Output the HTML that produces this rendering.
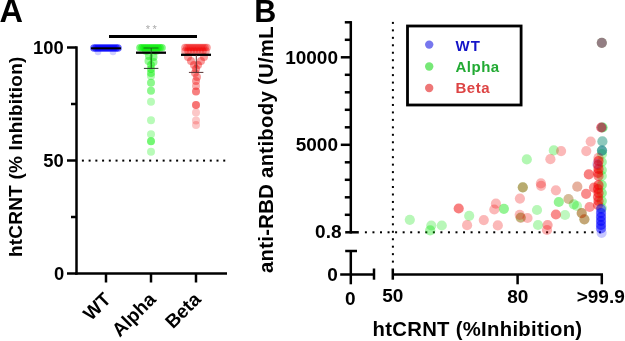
<!DOCTYPE html>
<html><head><meta charset="utf-8"><style>
html,body{margin:0;padding:0;background:#fff;}
svg{display:block;will-change:transform;}
svg text{font-family:"Liberation Sans",sans-serif;}
</style></head><body>
<svg width="625" height="341" viewBox="0 0 625 341">
<defs><filter id="soft" x="-5%" y="-5%" width="110%" height="110%"><feGaussianBlur stdDeviation="0.75"/></filter><filter id="softA" x="-10%" y="-10%" width="120%" height="120%"><feGaussianBlur stdDeviation="0.5"/></filter></defs>
<text x="-0.6" y="21.7" font-family="Liberation Sans, sans-serif" font-weight="bold" font-size="32.5">A</text>
<line x1="76.5" y1="46.3" x2="76.5" y2="274.7" stroke="#000" stroke-width="2.5"/>
<line x1="67" y1="47.5" x2="76.5" y2="47.5" stroke="#000" stroke-width="2.5"/>
<line x1="71" y1="104" x2="76.5" y2="104" stroke="#000" stroke-width="2.5"/>
<line x1="67" y1="160.5" x2="76.5" y2="160.5" stroke="#000" stroke-width="2.5"/>
<line x1="71" y1="217" x2="76.5" y2="217" stroke="#000" stroke-width="2.5"/>
<line x1="67" y1="273.5" x2="76.5" y2="273.5" stroke="#000" stroke-width="2.5"/>
<line x1="75.3" y1="273.5" x2="227" y2="273.5" stroke="#000" stroke-width="2.5"/>
<line x1="106" y1="273.5" x2="106" y2="282.5" stroke="#000" stroke-width="2.5"/>
<line x1="151" y1="273.5" x2="151" y2="282.5" stroke="#000" stroke-width="2.5"/>
<line x1="196" y1="273.5" x2="196" y2="282.5" stroke="#000" stroke-width="2.5"/>
<text x="63.8" y="54.2" font-family="Liberation Sans, sans-serif" font-weight="bold" font-size="18.4" text-anchor="end">100</text>
<text x="63.8" y="167" font-family="Liberation Sans, sans-serif" font-weight="bold" font-size="18.4" text-anchor="end">50</text>
<text x="64.3" y="280.4" font-family="Liberation Sans, sans-serif" font-weight="bold" font-size="18.4" text-anchor="end">0</text>
<text transform="translate(22,257) rotate(-90)" font-family="Liberation Sans, sans-serif" font-weight="bold" font-size="19" letter-spacing="0.2">htCRNT (% Inhibition)</text>
<text transform="translate(112,300.5) rotate(-45)" font-family="Liberation Sans, sans-serif" font-weight="bold" font-size="19" text-anchor="end">WT</text>
<text transform="translate(157,300.5) rotate(-45)" font-family="Liberation Sans, sans-serif" font-weight="bold" font-size="19" text-anchor="end">Alpha</text>
<text transform="translate(202,300.5) rotate(-45)" font-family="Liberation Sans, sans-serif" font-weight="bold" font-size="19" text-anchor="end">Beta</text>
<g fill="#000"><rect x="81.9" y="159.6" width="2" height="2"/><rect x="88.63000000000001" y="159.6" width="2" height="2"/><rect x="95.36000000000001" y="159.6" width="2" height="2"/><rect x="102.09" y="159.6" width="2" height="2"/><rect x="108.82000000000001" y="159.6" width="2" height="2"/><rect x="115.55000000000001" y="159.6" width="2" height="2"/><rect x="122.28" y="159.6" width="2" height="2"/><rect x="129.01" y="159.6" width="2" height="2"/><rect x="135.74" y="159.6" width="2" height="2"/><rect x="142.47000000000003" y="159.6" width="2" height="2"/><rect x="149.20000000000002" y="159.6" width="2" height="2"/><rect x="155.93" y="159.6" width="2" height="2"/><rect x="162.66000000000003" y="159.6" width="2" height="2"/><rect x="169.39000000000001" y="159.6" width="2" height="2"/><rect x="176.12" y="159.6" width="2" height="2"/><rect x="182.85000000000002" y="159.6" width="2" height="2"/><rect x="189.58" y="159.6" width="2" height="2"/><rect x="196.31" y="159.6" width="2" height="2"/><rect x="203.04000000000002" y="159.6" width="2" height="2"/><rect x="209.77" y="159.6" width="2" height="2"/><rect x="216.50000000000003" y="159.6" width="2" height="2"/><rect x="223.23000000000002" y="159.6" width="2" height="2"/></g>
<rect x="109" y="35" width="88" height="3" fill="#000"/>
<text x="152.5" y="32.5" font-family="Liberation Sans, sans-serif" font-size="11" fill="#aaaaaa" text-anchor="middle" letter-spacing="2.5">**</text>
<g filter="url(#softA)"><circle cx="94" cy="48" r="3.8" fill="#0000ff" fill-opacity="0.6"/><circle cx="96" cy="48" r="3.8" fill="#0000ff" fill-opacity="0.6"/><circle cx="98" cy="48" r="3.8" fill="#0000ff" fill-opacity="0.6"/><circle cx="100" cy="48" r="3.8" fill="#0000ff" fill-opacity="0.6"/><circle cx="102" cy="48" r="3.8" fill="#0000ff" fill-opacity="0.6"/><circle cx="104" cy="48" r="3.8" fill="#0000ff" fill-opacity="0.6"/><circle cx="106" cy="48" r="3.8" fill="#0000ff" fill-opacity="0.6"/><circle cx="108" cy="48" r="3.8" fill="#0000ff" fill-opacity="0.6"/><circle cx="110" cy="48" r="3.8" fill="#0000ff" fill-opacity="0.6"/><circle cx="112" cy="48" r="3.8" fill="#0000ff" fill-opacity="0.6"/><circle cx="114" cy="48" r="3.8" fill="#0000ff" fill-opacity="0.6"/><circle cx="116" cy="48" r="3.8" fill="#0000ff" fill-opacity="0.6"/><circle cx="118" cy="48" r="3.8" fill="#0000ff" fill-opacity="0.6"/><circle cx="98" cy="52" r="3.3" fill="#0000ff" fill-opacity="0.18"/><circle cx="113" cy="52" r="3.3" fill="#0000ff" fill-opacity="0.18"/></g>
<line x1="91" y1="48.3" x2="121" y2="48.3" stroke="#000" stroke-width="2"/>
<g filter="url(#softA)"><circle cx="140" cy="47.8" r="3.8" fill="#00f000" fill-opacity="0.5"/><circle cx="142" cy="47.8" r="3.8" fill="#00f000" fill-opacity="0.5"/><circle cx="144" cy="47.8" r="3.8" fill="#00f000" fill-opacity="0.5"/><circle cx="146" cy="47.8" r="3.8" fill="#00f000" fill-opacity="0.5"/><circle cx="148" cy="47.8" r="3.8" fill="#00f000" fill-opacity="0.5"/><circle cx="150" cy="47.8" r="3.8" fill="#00f000" fill-opacity="0.5"/><circle cx="152" cy="47.8" r="3.8" fill="#00f000" fill-opacity="0.5"/><circle cx="154" cy="47.8" r="3.8" fill="#00f000" fill-opacity="0.5"/><circle cx="156" cy="47.8" r="3.8" fill="#00f000" fill-opacity="0.5"/><circle cx="158" cy="47.8" r="3.8" fill="#00f000" fill-opacity="0.5"/><circle cx="160" cy="47.8" r="3.8" fill="#00f000" fill-opacity="0.5"/><circle cx="162" cy="47.8" r="3.8" fill="#00f000" fill-opacity="0.5"/><circle cx="146" cy="51" r="4" fill="#00f000" fill-opacity="0.4"/><circle cx="156" cy="51" r="4" fill="#00f000" fill-opacity="0.4"/><circle cx="149" cy="56" r="4" fill="#00f000" fill-opacity="0.45"/><circle cx="153.5" cy="57" r="4" fill="#00f000" fill-opacity="0.45"/><circle cx="148.5" cy="61" r="4" fill="#00f000" fill-opacity="0.4"/><circle cx="153.5" cy="62" r="4" fill="#00f000" fill-opacity="0.4"/><circle cx="151" cy="65" r="4" fill="#00f000" fill-opacity="0.45"/><circle cx="151" cy="69" r="4" fill="#00f000" fill-opacity="0.45"/><circle cx="151" cy="73" r="4" fill="#00f000" fill-opacity="0.45"/><circle cx="151" cy="76" r="4" fill="#00f000" fill-opacity="0.3"/><circle cx="151" cy="82.7" r="4" fill="#00f000" fill-opacity="0.45"/><circle cx="151" cy="90.7" r="4" fill="#00f000" fill-opacity="0.45"/><circle cx="151" cy="101.8" r="4" fill="#00f000" fill-opacity="0.28"/><circle cx="151" cy="120.2" r="4" fill="#00f000" fill-opacity="0.28"/><circle cx="151" cy="134.3" r="4" fill="#00f000" fill-opacity="0.28"/><circle cx="151" cy="141.3" r="4" fill="#00f000" fill-opacity="0.55"/><circle cx="151" cy="151.8" r="4" fill="#00f000" fill-opacity="0.28"/></g>
<line x1="136" y1="52.7" x2="166" y2="52.7" stroke="#000" stroke-width="2.3"/>
<line x1="151.2" y1="48" x2="151.2" y2="68.4" stroke="#1a5a1a" stroke-width="1"/>
<line x1="143.5" y1="48" x2="158.5" y2="48" stroke="#1a6a1a" stroke-width="1"/>
<line x1="143.9" y1="68.4" x2="158.4" y2="68.4" stroke="#2a3a2a" stroke-width="1"/>
<g filter="url(#softA)"><circle cx="185" cy="47.5" r="3.8" fill="#f00000" fill-opacity="0.38"/><circle cx="187" cy="47.5" r="3.8" fill="#f00000" fill-opacity="0.38"/><circle cx="189" cy="47.5" r="3.8" fill="#f00000" fill-opacity="0.38"/><circle cx="191" cy="47.5" r="3.8" fill="#f00000" fill-opacity="0.38"/><circle cx="193" cy="47.5" r="3.8" fill="#f00000" fill-opacity="0.38"/><circle cx="195" cy="47.5" r="3.8" fill="#f00000" fill-opacity="0.38"/><circle cx="197" cy="47.5" r="3.8" fill="#f00000" fill-opacity="0.38"/><circle cx="199" cy="47.5" r="3.8" fill="#f00000" fill-opacity="0.38"/><circle cx="201" cy="47.5" r="3.8" fill="#f00000" fill-opacity="0.38"/><circle cx="203" cy="47.5" r="3.8" fill="#f00000" fill-opacity="0.38"/><circle cx="205" cy="47.5" r="3.8" fill="#f00000" fill-opacity="0.38"/><circle cx="207" cy="47.5" r="3.8" fill="#f00000" fill-opacity="0.38"/><circle cx="185" cy="51" r="3.8" fill="#f00000" fill-opacity="0.35"/><circle cx="188" cy="51" r="3.8" fill="#f00000" fill-opacity="0.35"/><circle cx="191" cy="51" r="3.8" fill="#f00000" fill-opacity="0.35"/><circle cx="194" cy="51" r="3.8" fill="#f00000" fill-opacity="0.35"/><circle cx="197" cy="51" r="3.8" fill="#f00000" fill-opacity="0.35"/><circle cx="200" cy="51" r="3.8" fill="#f00000" fill-opacity="0.35"/><circle cx="203" cy="51" r="3.8" fill="#f00000" fill-opacity="0.35"/><circle cx="206" cy="51" r="3.8" fill="#f00000" fill-opacity="0.35"/><circle cx="188" cy="57" r="4" fill="#f00000" fill-opacity="0.38"/><circle cx="204" cy="57" r="4" fill="#f00000" fill-opacity="0.38"/><circle cx="191" cy="61" r="4" fill="#f00000" fill-opacity="0.4"/><circle cx="201" cy="61" r="4" fill="#f00000" fill-opacity="0.4"/><circle cx="194" cy="65" r="4" fill="#f00000" fill-opacity="0.4"/><circle cx="198" cy="65" r="4" fill="#f00000" fill-opacity="0.4"/><circle cx="196" cy="69" r="4" fill="#f00000" fill-opacity="0.42"/><circle cx="195" cy="73" r="4" fill="#f00000" fill-opacity="0.4"/><circle cx="197" cy="77" r="4" fill="#f00000" fill-opacity="0.38"/><circle cx="196" cy="81" r="4" fill="#f00000" fill-opacity="0.4"/><circle cx="196" cy="86" r="4" fill="#f00000" fill-opacity="0.32"/><circle cx="196" cy="91.5" r="4" fill="#f00000" fill-opacity="0.5"/><circle cx="196" cy="104.9" r="4" fill="#f00000" fill-opacity="0.55"/><circle cx="196" cy="112.4" r="4" fill="#f00000" fill-opacity="0.22"/><circle cx="196" cy="120.5" r="4" fill="#f00000" fill-opacity="0.22"/><circle cx="196" cy="125" r="4" fill="#f00000" fill-opacity="0.22"/></g>
<line x1="181" y1="54.8" x2="211" y2="54.8" stroke="#000" stroke-width="2.3"/>
<line x1="196.3" y1="55" x2="196.3" y2="72.4" stroke="#663333" stroke-width="1"/>
<line x1="188.9" y1="72.4" x2="203.4" y2="72.4" stroke="#553333" stroke-width="1"/>
<text x="254.3" y="21.9" font-family="Liberation Sans, sans-serif" font-weight="bold" font-size="30.5">B</text>
<line x1="350.8" y1="21.1" x2="350.8" y2="233.5" stroke="#000" stroke-width="2.5"/>
<line x1="344.8" y1="22.3" x2="350.8" y2="22.3" stroke="#000" stroke-width="2.5"/>
<line x1="344.8" y1="39.8" x2="350.8" y2="39.8" stroke="#000" stroke-width="2.5"/>
<line x1="340.8" y1="57.3" x2="350.8" y2="57.3" stroke="#000" stroke-width="2.5"/>
<line x1="344.8" y1="74.8" x2="350.8" y2="74.8" stroke="#000" stroke-width="2.5"/>
<line x1="344.8" y1="92.3" x2="350.8" y2="92.3" stroke="#000" stroke-width="2.5"/>
<line x1="344.8" y1="109.8" x2="350.8" y2="109.8" stroke="#000" stroke-width="2.5"/>
<line x1="344.8" y1="127.3" x2="350.8" y2="127.3" stroke="#000" stroke-width="2.5"/>
<line x1="340.8" y1="144.8" x2="350.8" y2="144.8" stroke="#000" stroke-width="2.5"/>
<line x1="344.8" y1="162.3" x2="350.8" y2="162.3" stroke="#000" stroke-width="2.5"/>
<line x1="344.8" y1="179.8" x2="350.8" y2="179.8" stroke="#000" stroke-width="2.5"/>
<line x1="344.8" y1="197.3" x2="350.8" y2="197.3" stroke="#000" stroke-width="2.5"/>
<line x1="344.8" y1="214.8" x2="350.8" y2="214.8" stroke="#000" stroke-width="2.5"/>
<line x1="345.2" y1="232.3" x2="358.8" y2="232.3" stroke="#000" stroke-width="2.5"/>
<line x1="350.8" y1="251" x2="350.8" y2="284.3" stroke="#000" stroke-width="2.5"/>
<line x1="345.2" y1="251" x2="357" y2="251" stroke="#000" stroke-width="2.5"/>
<line x1="340.2" y1="274.4" x2="374.2" y2="274.4" stroke="#000" stroke-width="2.5"/>
<line x1="374" y1="268.5" x2="374" y2="279.7" stroke="#000" stroke-width="2.5"/>
<line x1="392.8" y1="274.4" x2="603" y2="274.4" stroke="#000" stroke-width="2.5"/>
<line x1="392.8" y1="268.5" x2="392.8" y2="279.7" stroke="#000" stroke-width="2.5"/>
<line x1="517.6" y1="274.4" x2="517.6" y2="284.3" stroke="#000" stroke-width="2.5"/>
<line x1="601.8" y1="274.4" x2="601.8" y2="284.3" stroke="#000" stroke-width="2.5"/>
<text x="338" y="63.7" font-family="Liberation Sans, sans-serif" font-weight="bold" font-size="19" text-anchor="end">10000</text>
<text x="338" y="151.1" font-family="Liberation Sans, sans-serif" font-weight="bold" font-size="19" text-anchor="end">5000</text>
<text x="341.5" y="238.3" font-family="Liberation Sans, sans-serif" font-weight="bold" font-size="19" text-anchor="end">0.8</text>
<text x="337.8" y="280.5" font-family="Liberation Sans, sans-serif" font-weight="bold" font-size="19" text-anchor="end">0</text>
<text x="350.2" y="305.2" font-family="Liberation Sans, sans-serif" font-weight="bold" font-size="19" text-anchor="middle">0</text>
<text x="392.7" y="302.2" font-family="Liberation Sans, sans-serif" font-weight="bold" font-size="19" text-anchor="middle">50</text>
<text x="517.8" y="302.5" font-family="Liberation Sans, sans-serif" font-weight="bold" font-size="19" text-anchor="middle">80</text>
<text x="600.7" y="302.5" font-family="Liberation Sans, sans-serif" font-weight="bold" font-size="19" text-anchor="middle">&gt;99.9</text>
<text x="372.5" y="335.6" font-family="Liberation Sans, sans-serif" font-weight="bold" font-size="20.3" letter-spacing="0.3">htCRNT (%Inhibition)</text>
<text transform="translate(272.5,273) rotate(-90)" font-family="Liberation Sans, sans-serif" font-weight="bold" font-size="20.3" letter-spacing="0.3">anti-RBD antibody (U/mL</text>
<g fill="#000"><rect x="391.9" y="21.90" width="2" height="2"/><rect x="391.9" y="29.36" width="2" height="2"/><rect x="391.9" y="36.82" width="2" height="2"/><rect x="391.9" y="44.28" width="2" height="2"/><rect x="391.9" y="51.74" width="2" height="2"/><rect x="391.9" y="59.20" width="2" height="2"/><rect x="391.9" y="66.66" width="2" height="2"/><rect x="391.9" y="74.12" width="2" height="2"/><rect x="391.9" y="81.58" width="2" height="2"/><rect x="391.9" y="89.04" width="2" height="2"/><rect x="391.9" y="96.50" width="2" height="2"/><rect x="391.9" y="103.96" width="2" height="2"/><rect x="391.9" y="111.42" width="2" height="2"/><rect x="391.9" y="118.88" width="2" height="2"/><rect x="391.9" y="126.34" width="2" height="2"/><rect x="391.9" y="133.80" width="2" height="2"/><rect x="391.9" y="141.26" width="2" height="2"/><rect x="391.9" y="148.72" width="2" height="2"/><rect x="391.9" y="156.18" width="2" height="2"/><rect x="391.9" y="163.64" width="2" height="2"/><rect x="391.9" y="171.10" width="2" height="2"/><rect x="391.9" y="178.56" width="2" height="2"/><rect x="391.9" y="186.02" width="2" height="2"/><rect x="391.9" y="193.48" width="2" height="2"/><rect x="391.9" y="200.94" width="2" height="2"/><rect x="391.9" y="208.40" width="2" height="2"/><rect x="391.9" y="215.86" width="2" height="2"/><rect x="391.9" y="223.32" width="2" height="2"/><rect x="391.9" y="230.78" width="2" height="2"/><rect x="391.9" y="238.24" width="2" height="2"/><rect x="391.9" y="245.70" width="2" height="2"/><rect x="391.9" y="253.16" width="2" height="2"/><rect x="391.9" y="260.62" width="2" height="2"/><rect x="364.90" y="231.3" width="2" height="2"/><rect x="372.45" y="231.3" width="2" height="2"/><rect x="380.00" y="231.3" width="2" height="2"/><rect x="387.55" y="231.3" width="2" height="2"/><rect x="395.10" y="231.3" width="2" height="2"/><rect x="402.65" y="231.3" width="2" height="2"/><rect x="410.20" y="231.3" width="2" height="2"/><rect x="417.75" y="231.3" width="2" height="2"/><rect x="425.30" y="231.3" width="2" height="2"/><rect x="432.85" y="231.3" width="2" height="2"/><rect x="440.40" y="231.3" width="2" height="2"/><rect x="447.95" y="231.3" width="2" height="2"/><rect x="455.50" y="231.3" width="2" height="2"/><rect x="463.05" y="231.3" width="2" height="2"/><rect x="470.60" y="231.3" width="2" height="2"/><rect x="478.15" y="231.3" width="2" height="2"/><rect x="485.70" y="231.3" width="2" height="2"/><rect x="493.25" y="231.3" width="2" height="2"/><rect x="500.80" y="231.3" width="2" height="2"/><rect x="508.35" y="231.3" width="2" height="2"/><rect x="515.90" y="231.3" width="2" height="2"/><rect x="523.45" y="231.3" width="2" height="2"/><rect x="531.00" y="231.3" width="2" height="2"/><rect x="538.55" y="231.3" width="2" height="2"/><rect x="546.10" y="231.3" width="2" height="2"/><rect x="553.65" y="231.3" width="2" height="2"/><rect x="561.20" y="231.3" width="2" height="2"/><rect x="568.75" y="231.3" width="2" height="2"/><rect x="576.30" y="231.3" width="2" height="2"/><rect x="583.85" y="231.3" width="2" height="2"/><rect x="591.40" y="231.3" width="2" height="2"/><rect x="598.95" y="231.3" width="2" height="2"/></g>
<rect x="407.5" y="26" width="113.6" height="79" fill="none" stroke="#000" stroke-width="2.8"/>
<circle cx="429.2" cy="44.6" r="4.2" fill="#7777ee" fill-opacity="1"/>
<circle cx="429.2" cy="66.5" r="4.2" fill="#77e877" fill-opacity="1"/>
<circle cx="429.2" cy="88" r="4.2" fill="#ee7777" fill-opacity="1"/>
<text x="455.5" y="50.8" font-family="Liberation Sans, sans-serif" font-weight="bold" font-size="15" fill="#1414c8" letter-spacing="1">WT</text>
<text x="455.5" y="71.8" font-family="Liberation Sans, sans-serif" font-weight="bold" font-size="15" fill="#22aa33" letter-spacing="0.5">Alpha</text>
<text x="455.5" y="92.9" font-family="Liberation Sans, sans-serif" font-weight="bold" font-size="15" fill="#dd4444" letter-spacing="0.5">Beta</text>
<g filter="url(#soft)"><circle cx="409.8" cy="219.8" r="5.1" fill="#00e400" fill-opacity="0.28"/><circle cx="431.3" cy="225.5" r="5.1" fill="#00e400" fill-opacity="0.28"/><circle cx="430.2" cy="230.3" r="5.1" fill="#00e400" fill-opacity="0.35"/><circle cx="441.8" cy="225.5" r="5.1" fill="#00e400" fill-opacity="0.28"/><circle cx="469.2" cy="215.8" r="5.1" fill="#00e400" fill-opacity="0.28"/><circle cx="526.8" cy="159.4" r="5.1" fill="#00e400" fill-opacity="0.3"/><circle cx="522.8" cy="187.3" r="5.1" fill="#00e400" fill-opacity="0.38"/><circle cx="503.9" cy="208.8" r="5.1" fill="#00e400" fill-opacity="0.42"/><circle cx="520.7" cy="217.5" r="5.1" fill="#00e400" fill-opacity="0.35"/><circle cx="537" cy="210" r="5.1" fill="#00e400" fill-opacity="0.28"/><circle cx="538" cy="225" r="5.1" fill="#00e400" fill-opacity="0.28"/><circle cx="553.8" cy="150.4" r="5.1" fill="#00e400" fill-opacity="0.3"/><circle cx="577.3" cy="186.7" r="5.1" fill="#00e400" fill-opacity="0.12"/><circle cx="558.8" cy="202" r="5.1" fill="#00e400" fill-opacity="0.42"/><circle cx="568.5" cy="199" r="5.1" fill="#00e400" fill-opacity="0.2"/><circle cx="573.8" cy="204.3" r="5.1" fill="#00e400" fill-opacity="0.35"/><circle cx="565" cy="215" r="5.1" fill="#00e400" fill-opacity="0.25"/><circle cx="581.7" cy="213.1" r="5.1" fill="#00e400" fill-opacity="0.32"/><circle cx="584.4" cy="219.3" r="5.1" fill="#00e400" fill-opacity="0.32"/><circle cx="577" cy="206" r="5.1" fill="#00e400" fill-opacity="0.25"/><circle cx="601.8" cy="42.8" r="5.1" fill="#00e400" fill-opacity="0.4"/><circle cx="602.5" cy="127.5" r="5.1" fill="#00e400" fill-opacity="0.5"/><circle cx="602.4" cy="141.4" r="5.1" fill="#00e400" fill-opacity="0.32"/><circle cx="602" cy="150.6" r="5.1" fill="#00e400" fill-opacity="0.5"/><circle cx="602" cy="154" r="5.1" fill="#00e400" fill-opacity="0.3"/><circle cx="601.8" cy="162" r="5.1" fill="#00e400" fill-opacity="0.35"/><circle cx="601.8" cy="170" r="5.1" fill="#00e400" fill-opacity="0.35"/><circle cx="601.8" cy="176" r="5.1" fill="#00e400" fill-opacity="0.3"/><circle cx="601.8" cy="185" r="5.1" fill="#00e400" fill-opacity="0.4"/><circle cx="601.8" cy="193" r="5.1" fill="#00e400" fill-opacity="0.4"/><circle cx="601.8" cy="201" r="5.1" fill="#00e400" fill-opacity="0.38"/><circle cx="601.8" cy="208" r="5.1" fill="#00e400" fill-opacity="0.3"/><circle cx="458.7" cy="208.5" r="5.1" fill="#f20000" fill-opacity="0.5"/><circle cx="467.1" cy="225.2" r="5.1" fill="#f20000" fill-opacity="0.28"/><circle cx="483.8" cy="220.1" r="5.1" fill="#f20000" fill-opacity="0.28"/><circle cx="495.9" cy="203.7" r="5.1" fill="#f20000" fill-opacity="0.28"/><circle cx="494.3" cy="209.5" r="5.1" fill="#f20000" fill-opacity="0.28"/><circle cx="497.8" cy="225.4" r="5.1" fill="#f20000" fill-opacity="0.28"/><circle cx="522.8" cy="187.3" r="5.1" fill="#f20000" fill-opacity="0.3"/><circle cx="519.9" cy="198.6" r="5.1" fill="#f20000" fill-opacity="0.28"/><circle cx="519.7" cy="214.8" r="5.1" fill="#f20000" fill-opacity="0.28"/><circle cx="520.7" cy="217.8" r="5.1" fill="#f20000" fill-opacity="0.26"/><circle cx="527.5" cy="218" r="5.1" fill="#f20000" fill-opacity="0.28"/><circle cx="541.1" cy="185.8" r="5.1" fill="#f20000" fill-opacity="0.28"/><circle cx="555.9" cy="190.3" r="5.1" fill="#f20000" fill-opacity="0.28"/><circle cx="547.6" cy="225" r="5.1" fill="#f20000" fill-opacity="0.35"/><circle cx="547" cy="230" r="5.1" fill="#f20000" fill-opacity="0.3"/><circle cx="555.9" cy="214.5" r="5.1" fill="#f20000" fill-opacity="0.45"/><circle cx="561.1" cy="151.1" r="5.1" fill="#f20000" fill-opacity="0.28"/><circle cx="550.4" cy="159.2" r="5.1" fill="#f20000" fill-opacity="0.28"/><circle cx="590.7" cy="141.6" r="5.1" fill="#f20000" fill-opacity="0.28"/><circle cx="586.3" cy="151.1" r="5.1" fill="#f20000" fill-opacity="0.28"/><circle cx="540.9" cy="183.4" r="5.1" fill="#f20000" fill-opacity="0.28"/><circle cx="588.8" cy="174.4" r="5.1" fill="#f20000" fill-opacity="0.5"/><circle cx="577.3" cy="186.7" r="5.1" fill="#f20000" fill-opacity="0.3"/><circle cx="586.1" cy="193.8" r="5.1" fill="#f20000" fill-opacity="0.45"/><circle cx="594" cy="187.6" r="5.1" fill="#f20000" fill-opacity="0.45"/><circle cx="568.5" cy="199" r="5.1" fill="#f20000" fill-opacity="0.25"/><circle cx="589.6" cy="207" r="5.1" fill="#f20000" fill-opacity="0.4"/><circle cx="581.7" cy="213.1" r="5.1" fill="#f20000" fill-opacity="0.35"/><circle cx="584.4" cy="219.3" r="5.1" fill="#f20000" fill-opacity="0.32"/><circle cx="601.8" cy="42.8" r="5.1" fill="#f20000" fill-opacity="0.35"/><circle cx="601.3" cy="127.5" r="5.1" fill="#f20000" fill-opacity="0.55"/><circle cx="598.5" cy="157.9" r="5.1" fill="#f20000" fill-opacity="0.3"/><circle cx="598.5" cy="161" r="5.1" fill="#f20000" fill-opacity="0.55"/><circle cx="598" cy="165" r="5.1" fill="#f20000" fill-opacity="0.5"/><circle cx="598.5" cy="169" r="5.1" fill="#f20000" fill-opacity="0.55"/><circle cx="598" cy="173" r="5.1" fill="#f20000" fill-opacity="0.5"/><circle cx="598.5" cy="176" r="5.1" fill="#f20000" fill-opacity="0.45"/><circle cx="598.5" cy="185" r="5.1" fill="#f20000" fill-opacity="0.55"/><circle cx="598" cy="189" r="5.1" fill="#f20000" fill-opacity="0.5"/><circle cx="598.5" cy="193" r="5.1" fill="#f20000" fill-opacity="0.55"/><circle cx="598" cy="197" r="5.1" fill="#f20000" fill-opacity="0.5"/><circle cx="598.5" cy="201" r="5.1" fill="#f20000" fill-opacity="0.5"/><circle cx="598" cy="205" r="5.1" fill="#f20000" fill-opacity="0.45"/><circle cx="601.8" cy="42.8" r="5.1" fill="#0000ff" fill-opacity="0.2"/><circle cx="601.8" cy="127.5" r="5.1" fill="#0000ff" fill-opacity="0.15"/><circle cx="602.4" cy="141.4" r="5.1" fill="#0000ff" fill-opacity="0.18"/><circle cx="602" cy="150.6" r="5.1" fill="#0000ff" fill-opacity="0.3"/><circle cx="597" cy="164" r="5.1" fill="#0000ff" fill-opacity="0.12"/><circle cx="601" cy="209" r="5.1" fill="#0000ff" fill-opacity="0.45"/><circle cx="601" cy="213" r="5.1" fill="#0000ff" fill-opacity="0.55"/><circle cx="601" cy="217" r="5.1" fill="#0000ff" fill-opacity="0.6"/><circle cx="601" cy="221" r="5.1" fill="#0000ff" fill-opacity="0.6"/><circle cx="601" cy="225" r="5.1" fill="#0000ff" fill-opacity="0.6"/><circle cx="601" cy="228.5" r="5.1" fill="#0000ff" fill-opacity="0.5"/><circle cx="601.6" cy="232.8" r="5.1" fill="#0000ff" fill-opacity="0.22"/></g>
</svg>
</body></html>
